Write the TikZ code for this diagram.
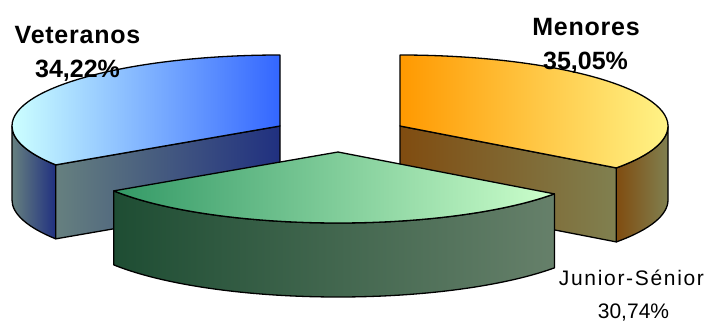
\documentclass[tikz,border=0pt]{standalone}
\usepackage{fontspec}
\setmainfont{Liberation Sans}
\newfontfamily\lblbold[LetterSpace=3]{Liberation Sans Bold}
\newfontfamily\lblnum{Liberation Sans Bold}
\newfontfamily\lblreg[LetterSpace=8]{Liberation Sans}
\newfontfamily\lblregnum{Liberation Sans}
\definecolor{vetTopL}{HTML}{CCFFFF}
\definecolor{vetTopR}{HTML}{3366FF}
\definecolor{vetSideL}{HTML}{66807F}
\definecolor{vetSideR}{HTML}{203080}
\definecolor{menTopL}{HTML}{FF9900}
\definecolor{menTopR}{HTML}{FFFF99}
\definecolor{menSideL}{HTML}{804C10}
\definecolor{menSideR}{HTML}{808050}
\definecolor{jsTopL}{HTML}{339966}
\definecolor{jsTopR}{HTML}{CCFFCC}
\definecolor{jsSideL}{HTML}{1E4D33}
\definecolor{jsSideR}{HTML}{66806A}
\begin{document}
\begin{tikzpicture}[x=1pt,y=1pt,
  face/.style={draw=black,line width=1.3pt,line join=round},
  ell/.style={x radius=268pt,y radius=71pt},
  lbl/.style={anchor=base,inner sep=0pt,text=black}]
\useasboundingbox (0,0) rectangle (707,322);
\coordinate (vc) at (280,196);
\coordinate (mc) at (400,196);
\coordinate (jc) at (338,170);
% Veteranos
\begin{scope}[shift={(vc)}]
  \path[face,left color=vetSideL,right color=vetSideR]
    (180:268pt and 71pt) arc[start angle=180,end angle=213.19,ell]
    -- ++(0,-74) arc[start angle=213.19,end angle=180,ell] -- cycle;
  \path[face,left color=vetSideL,right color=vetSideR]
    (0,0) -- (213.19:268pt and 71pt) -- ++(0,-74) -- (0,-74) -- cycle;
  \path[face,left color=vetTopL,right color=vetTopR]
    (0,0) -- (90:268pt and 71pt) arc[start angle=90,end angle=213.19,ell] -- cycle;
\end{scope}
% Menores
\begin{scope}[shift={(mc)}]
  \path[face,left color=menSideL,right color=menSideR]
    (-36.18:268pt and 71pt) arc[start angle=-36.18,end angle=0,ell]
    -- ++(0,-74) arc[start angle=0,end angle=-36.18,ell] -- cycle;
  \path[face,left color=menSideL,right color=menSideR]
    (0,0) -- (-36.18:268pt and 71pt) -- ++(0,-74) -- (0,-74) -- cycle;
  \path[face,left color=menTopL,right color=menTopR]
    (0,0) -- (-36.18:268pt and 71pt) arc[start angle=-36.18,end angle=90,ell] -- cycle;
\end{scope}
% Junior-Senior
\begin{scope}[shift={(jc)}]
  \path[face,left color=jsSideL,right color=jsSideR]
    (213.19:268pt and 71pt) arc[start angle=213.19,end angle=323.85,ell]
    -- ++(0,-74) arc[start angle=323.85,end angle=213.19,ell] -- cycle;
  \path[face,left color=jsTopL,right color=jsTopR]
    (0,0) -- (213.19:268pt and 71pt) arc[start angle=213.19,end angle=323.85,ell] -- cycle;
\end{scope}
% labels
\node[lbl,font=\lblbold\fontsize{25}{30}\selectfont] (lv) at (77.5,278) {Veteranos};
\node[lbl,font=\lblnum\fontsize{25}{30}\selectfont] (pv) at (77.5,244) {34,22\%};
\node[lbl,font=\lblbold\fontsize{25}{30}\selectfont] (lm) at (586,286) {Menores};
\node[lbl,font=\lblnum\fontsize{25}{30}\selectfont] (pm) at (585.5,252) {35,05\%};
\node[lbl,font=\lblreg\fontsize{21}{25}\selectfont] (lj) at (631.5,37) {Junior-Sénior};
\node[lbl,font=\lblregnum\fontsize{21}{25}\selectfont] (pj) at (633.5,4) {30,74\%};
\end{tikzpicture}
\end{document}
